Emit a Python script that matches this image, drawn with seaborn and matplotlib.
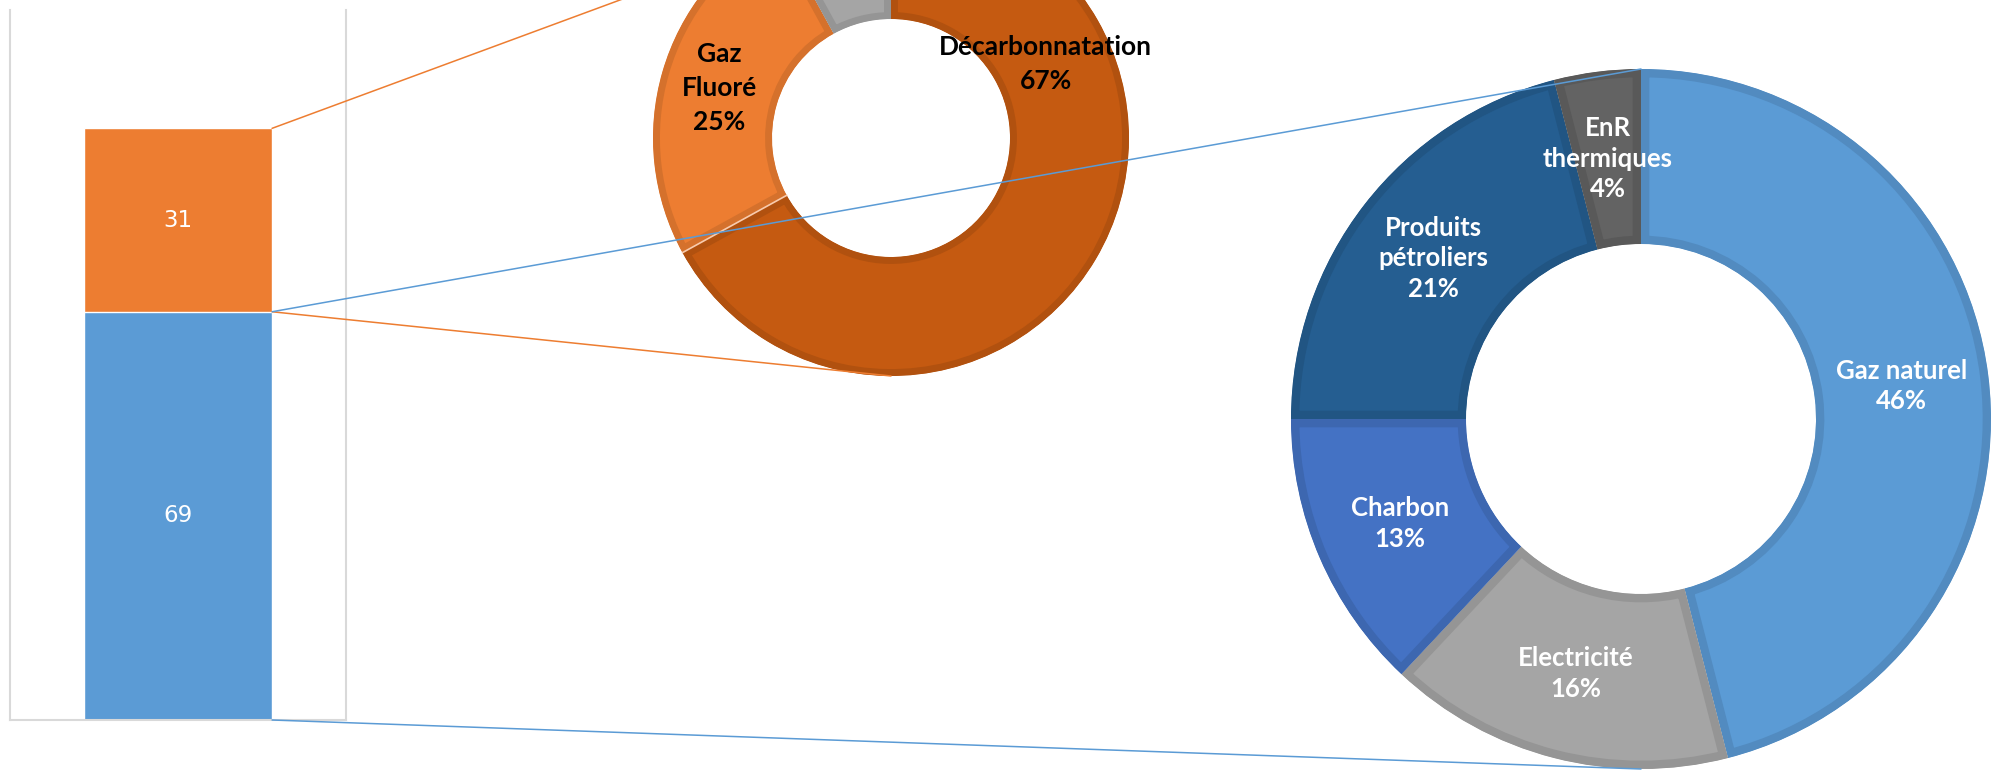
import matplotlib
matplotlib.use("Agg")
import matplotlib.pyplot as plt
import matplotlib.colors as mcolors
from matplotlib.patches import ConnectionPatch
import numpy as np
import pandas as pd
import seaborn as sns

# bar: total split in two parts
bar_category = ["Total"]
bar_energy = [69]
bar_process = [31]

# big donut (energy part)
energy_labels = ["Gaz naturel", "Electricité", "Charbon", "Produits\npétroliers", "EnR\nthermiques"]
energy_values = [46, 16, 13, 21, 4]
energy_colors = ["#5B9BD5", "#A5A5A5", "#4472C4", "#255E91", "#636363"]

# top donut (process part) - third slice label is outside the picture
process_labels = ["Décarbonnatation", "Gaz\nFluoré", ""]
process_values = [67, 25, 8]
process_colors = ["#C55A11", "#ED7D31", "#A5A5A5"]

ORANGE = "#ED7D31"
BLUE = "#5B9BD5"

sns.set_style("white")
plt.rcParams["font.family"] = ["Lato", "DejaVu Sans"]

W, H = 2004, 778
fig = plt.figure(figsize=(W / 100, H / 100), dpi=100)


def px_axes(left, top, width, height):
    # axes placed with pixel box (top-left origin)
    return fig.add_axes([left / W, (H - top - height) / H, width / W, height / H])


def darker(c, f=0.9):
    r, g, b = mcolors.to_rgb(c)
    return (r * f, g * f, b * f)


def donut(ax, values, colors, labels, fs, txt_color, border, linesp, moved=None):
    wedges, _ = ax.pie(values, colors=colors, startangle=90, counterclock=False,
                       radius=1, wedgeprops=dict(width=0.5))
    for w, c in zip(wedges, colors):
        # border drawn inside the slice only
        w.set_edgecolor(darker(c))
        w.set_linewidth(border)
        w.set_clip_on(True)
        w.set_clip_path(w)
    total = sum(values)
    for i, (w, lab, v) in enumerate(zip(wedges, labels, values)):
        if not lab:
            continue
        mid = np.deg2rad((w.theta1 + w.theta2) / 2)
        x, y = 0.75 * np.cos(mid), 0.75 * np.sin(mid)
        if moved and i in moved:
            x, y = moved[i]
        ax.text(x, y, f"{lab}\n{round(100 * v / total)}%", ha="center", va="center",
                fontsize=fs, fontweight="bold", color=txt_color, linespacing=linesp)
    ax.set_xlim(-1, 1)
    ax.set_ylim(-1, 1)
    ax.set_aspect("equal")
    ax.axis("off")
    return wedges


# --- stacked bar ---
ax_bar = px_axes(10, 10, 336, 710)
df = pd.DataFrame({"cat": bar_category,
                   "energy": bar_energy,
                   "total": [a + b for a, b in zip(bar_energy, bar_process)]})
sns.barplot(data=df, x="cat", y="total", color=ORANGE, saturation=1, width=0.56, ax=ax_bar)
sns.barplot(data=df, x="cat", y="energy", color=BLUE, saturation=1, width=0.56, ax=ax_bar)
ax_bar.set_xlim(-0.5, 0.5)
ax_bar.set_ylim(0, 120)
ax_bar.set_xticks([])
ax_bar.set_yticks([])
ax_bar.set_xlabel("")
ax_bar.set_ylabel("")
for s in ["left", "right", "bottom"]:
    ax_bar.spines[s].set_color("#D9D9D9")
    ax_bar.spines[s].set_linewidth(1.5)
ax_bar.spines["top"].set_visible(False)
ax_bar.text(0, bar_energy[0] / 2, str(bar_energy[0]), ha="center", va="center",
            color="white", fontsize=16.5, family="DejaVu Sans")
ax_bar.text(0, bar_energy[0] + bar_process[0] / 2, str(bar_process[0]), ha="center",
            va="center", color="white", fontsize=16.5, family="DejaVu Sans")

# --- top donut (cut by the frame) ---
ax_top = px_axes(653, -100, 476, 476)
top_wedges = donut(ax_top, process_values, process_colors, process_labels, 19, "black", 10, 1.5,
                   moved={0: (0.65, 0.31)})
# thin light seam between the two orange slices
seam = np.deg2rad(top_wedges[1].theta2)
ax_top.plot([0.5 * np.cos(seam), np.cos(seam)], [0.5 * np.sin(seam), np.sin(seam)],
            color="#F8CBAD", lw=1.2)

# --- big donut ---
ax_big = px_axes(1291, 69, 700, 700)
donut(ax_big, energy_values, energy_colors, energy_labels, 18.5, "white", 12, 1.33)

# --- connector lines from bar edges to the donuts ---
bar_right = ax_bar.patches[0].get_x() + ax_bar.patches[0].get_width()
top_val = bar_energy[0] + bar_process[0]
links = [
    ((bar_right, top_val), ax_top, (0, 1), ORANGE),
    ((bar_right, bar_energy[0]), ax_top, (0, -1), ORANGE),
    ((bar_right, bar_energy[0]), ax_big, (0, 1), BLUE),
    ((bar_right, 0), ax_big, (0, -1), BLUE),
]
for xyA, axB, xyB, col in links:
    con = ConnectionPatch(xyA=xyA, coordsA=ax_bar.transData, xyB=xyB, coordsB=axB.transData,
                          color=col, lw=1.1, zorder=10)
    fig.add_artist(con)

fig.savefig("out.png", dpi=100)
